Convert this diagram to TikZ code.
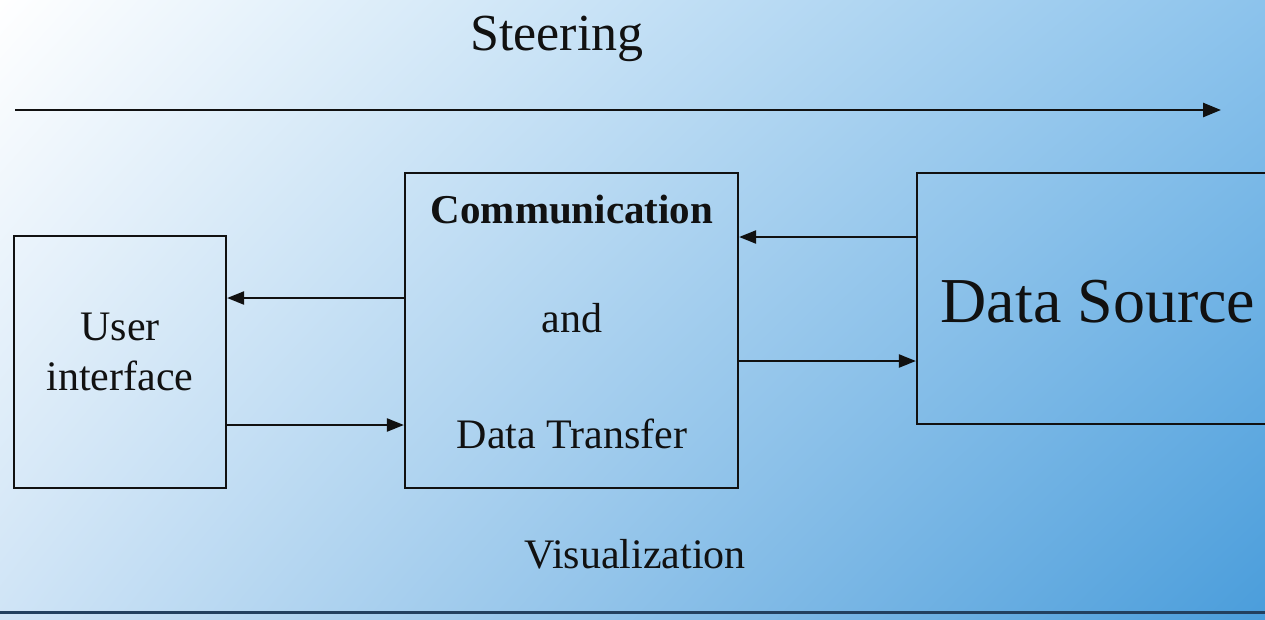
\documentclass[tikz,border=0pt]{standalone}
\usepackage{fontspec}
\setmainfont{Liberation Serif}
\usetikzlibrary{arrows.meta,shadings}
\definecolor{inkc}{HTML}{111111}
\definecolor{bgUL}{HTML}{FFFFFF}
\definecolor{bgUR}{HTML}{8CC3EC}
\definecolor{bgLL}{HTML}{CFE4F6}
\definecolor{bgLR}{HTML}{4A9DDB}
\definecolor{navy}{HTML}{22405F}
\tikzset{
  block/.style={draw=inkc, line width=2.2pt, inner sep=0pt, text=inkc},
  lbl/.style={text=inkc, inner sep=0pt, anchor=base},
  arr/.style={draw=inkc, line width=2.2pt, -{Triangle[length=17pt,width=13pt]}},
  txt/.style={font=\fontsize{42}{46}\selectfont},
}
\begin{document}
\begin{tikzpicture}[x=1pt,y=-1pt]
  \useasboundingbox (0,0) rectangle (1265,619);
  \clip (0,0) rectangle (1265,619);
  % background wash
  \shade[upper left=bgUL, upper right=bgUR, lower left=bgLL, lower right=bgLR]
    (0,0) rectangle (1265,619);

  % heading and the steering arrow
  \node[lbl, font=\fontsize{52}{56}\selectfont] (steer) at (557,50) {Steering};
  \coordinate (steerA) at (15,110);
  \coordinate (steerB) at (1221,110);
  \draw[arr, line width=2.6pt, -{Triangle[length=18pt,width=14pt]}] (steerA) -- (steerB);

  % blocks
  \node[block, minimum width=212pt, minimum height=252pt] (ui) at (120,362) {};
  \node[lbl, txt] (ui1) at (120,340) {User};
  \node[lbl, txt] (ui2) at (120,390) {interface};

  \node[block, minimum width=333pt, minimum height=315pt] (comm) at (571.5,330.5) {};
  \node[lbl, font=\fontsize{41}{46}\selectfont\bfseries] (comm1) at (572,223) {Communication};
  \node[lbl, txt] (comm2) at (572,332) {and};
  \node[lbl, txt] (comm3) at (572,448) {Data Transfer};

  \node[block, minimum width=360pt, minimum height=251pt] (ds) at (1097,298.5) {};
  \node[lbl, font=\fontsize{64}{70}\selectfont] (ds1) at (1098,322) {Data Source};

  % links between blocks
  \draw[arr] (comm.west |- 0,298) -- (ui.east |- 0,298);
  \draw[arr] (ui.east |- 0,425) -- (comm.west |- 0,425);
  \draw[arr] (ds.west |- 0,237) -- (comm.east |- 0,237);
  \draw[arr] (comm.east |- 0,361) -- (ds.west |- 0,361);

  % visualization line
  \node[lbl, txt] (vis) at (635,568) {Visualization};
  \coordinate (visA) at (-5,612);
  \coordinate (visB) at (1270,612);
  \draw[navy, line width=3pt] (visA) -- (visB);
\end{tikzpicture}
\end{document}
